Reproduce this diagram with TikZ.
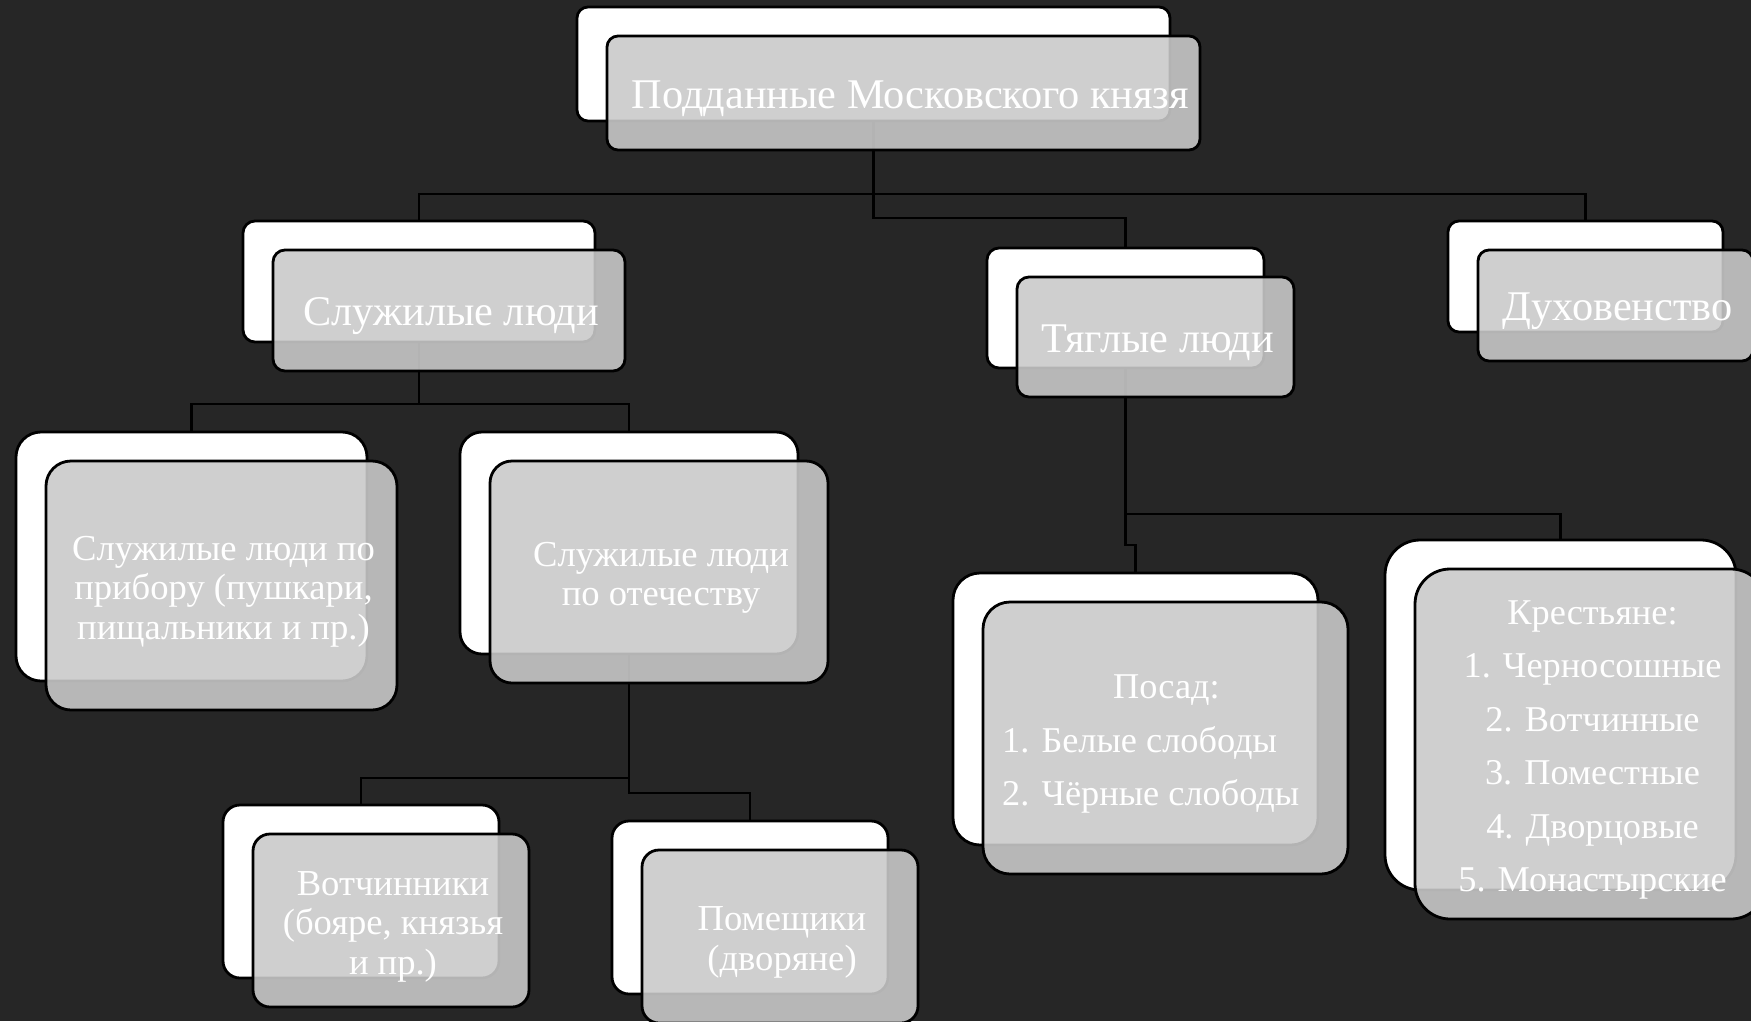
\documentclass[tikz,border=0pt]{standalone}
\usepackage{fontspec}
\setmainfont{Liberation Serif}
\definecolor{bgc}{RGB}{38,38,38}
\definecolor{frontgray}{RGB}{202,202,202}
\pgfdeclarelayer{bglayer}
\pgfdeclarelayer{linklayer}
\pgfsetlayers{bglayer,linklayer,main}
\tikzset{
  backbox/.style={draw=black, line width=2.8pt, fill=white, inner sep=0pt},
  frontbox/.style={draw=black, line width=2.8pt, fill=frontgray, fill opacity=0.89,
    inner sep=0pt},
  boxtext/.style={text=white, inner sep=0pt, align=center},
  bigtext/.style={font=\fontsize{42.3}{47}\selectfont},
  smalltext/.style={font=\fontsize{36.6}{39.5}\selectfont},
  listtext/.style={font=\fontsize{36.3}{53.5}\selectfont},
  link/.style={draw=black, line width=2.8pt},
}
% #1 name, #2..#5 back box corners (px), #6 corner radius, #7 text style, #8 text
\newcommand\twobox[8]{%
  \node[backbox, rounded corners=#6, minimum width={#4-#2}, minimum height={#5-#3}]
    (#1b) at ({(#2+#4)/2},{(#3+#5)/2}) {};
  \node[frontbox, rounded corners=#6, minimum width={#4-#2}, minimum height={#5-#3}]
    (#1) at ({(#2+#4)/2+30},{(#3+#5)/2+29}) {};
  \node[boxtext, #7] (#1t) at ([xshift=2pt,yshift=-6pt]#1.center) {#8};
}
\begin{document}
\begin{tikzpicture}[x=1pt,y=-1pt]
\useasboundingbox (0,0) rectangle (1751,1021);
\begin{pgfonlayer}{bglayer}
  \fill[bgc] (0,0) rectangle (1751,1021);
\end{pgfonlayer}
\clip (0,0) rectangle (1751,1021);

\twobox{top}{577}{7}{1170}{121}{11}{bigtext,xshift=5pt}{Подданные Московского князя}
\twobox{sl}{243}{221}{595}{342}{12}{bigtext}{Служилые люди}
\twobox{tg}{987}{248}{1264}{368}{12}{bigtext}{Тяглые люди}
\twobox{dh}{1448}{221}{1723}{332}{11}{bigtext}{Духовенство}
\twobox{pr}{16}{432}{367}{681}{25}{smalltext}{Служилые люди по\\прибору (пушкари,\\пищальники и пр.)}
\twobox{ot}{460}{432}{798}{654}{22}{smalltext}{Служилые люди\\по отечеству}
\twobox{vt}{223}{805}{499}{978}{17}{smalltext}{Вотчинники\\(бояре, князья\\и пр.)}
\twobox{pm}{612}{821}{888}{994}{17}{smalltext}{Помещики\\(дворяне)}
\twobox{ps}{953}{573}{1318}{845}{27}{listtext}{}
\twobox{kr}{1385}{540}{1736}{890}{35}{listtext}{Крестьяне:\\1. Черносошные\\2. Вотчинные\\3. Поместные\\4. Дворцовые\\5. Монастырские}

\node[listtext, text=white, inner sep=0pt, align=left, anchor=west] (pstext)
  at (1002,744) {\hspace*{111pt}Посад:\\1. Белые слободы\\2. Чёрные слободы};

\coordinate (bus1) at (0,194);
\coordinate (bus2) at (0,218);
\coordinate (bus3) at (0,404);
\coordinate (bus4) at (0,778);
\coordinate (bus5) at (0,793);
\coordinate (bus6) at (0,514);
\coordinate (bus7) at (0,545);

\begin{pgfonlayer}{linklayer}
  \draw[link] (topb.south) -- (topb.south |- bus2) -| (tgb.north);
  \draw[link] (slb.north) |- (dhb.north |- bus1) -- (dhb.north);
  \draw[link] (slb.south) -- (slb.south |- bus3);
  \draw[link] (prb.north) |- (otb.north |- bus3) -- (otb.north);
  \draw[link] (otb.south) -- (otb.south |- bus5) -| (pmb.north);
  \draw[link] (vtb.north) |- (otb.south |- bus4);
  \draw[link] (tgb.south) -- (tgb.south |- bus7) -| (psb.north);
  \draw[link] (tgb.south |- bus6) -| (krb.north);
\end{pgfonlayer}
\end{tikzpicture}
\end{document}
